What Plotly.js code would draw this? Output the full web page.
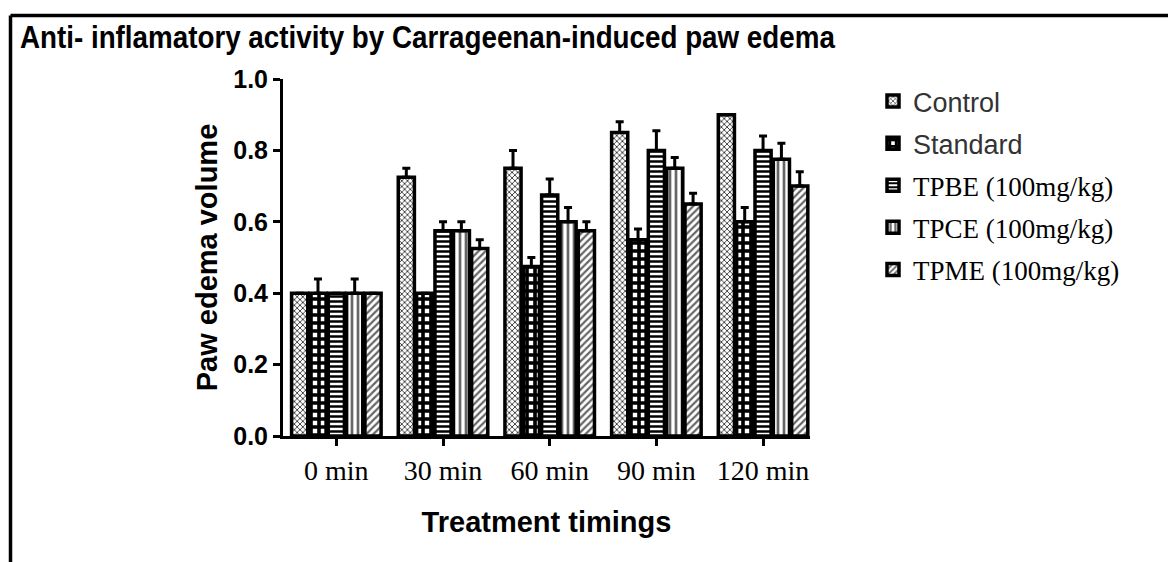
<!DOCTYPE html>
<html>
<head>
<meta charset="utf-8">
<script src="https://cdn.plot.ly/plotly-3.0.1.min.js"></script>
<style>html,body{margin:0;padding:0;background:#fff;}#chart{width:1168px;height:562px;}</style>
</head>
<body>
<div id="chart"></div>
<script>
const timings = ["0 min", "30 min", "60 min", "90 min", "120 min"];

const controlVals  = [0.40, 0.725, 0.75, 0.85, 0.90];
const controlErr   = [0.00, 0.025, 0.05, 0.03, 0.00];
const standardVals = [0.40, 0.40, 0.475, 0.55, 0.60];
const standardErr  = [0.04, 0.00, 0.025, 0.03, 0.04];
const tpbeVals     = [0.40, 0.575, 0.675, 0.80, 0.80];
const tpbeErr      = [0.00, 0.025, 0.045, 0.055, 0.04];
const tpceVals     = [0.40, 0.575, 0.60, 0.75, 0.775];
const tpceErr      = [0.04, 0.025, 0.04, 0.03, 0.045];
const tpmeVals     = [0.40, 0.525, 0.575, 0.65, 0.70];
const tpmeErr      = [0.00, 0.025, 0.025, 0.03, 0.04];

const seriesNames = [
  'Control',
  'Standard',
  '<span style="font-family:Liberation Serif;fill:#000">TPBE (100mg/kg)</span>',
  '<span style="font-family:Liberation Serif;fill:#000">TPCE (100mg/kg)</span>',
  '<span style="font-family:Liberation Serif;fill:#000">TPME (100mg/kg)</span>'
];

const patterns = [
  {shape: 'x', fgcolor: '#333', bgcolor: '#fff', size: 4, solidity: 0.4},
  {shape: '+', fgcolor: '#000', bgcolor: '#fff', size: 8, solidity: 0.7},
  {shape: '-', fgcolor: '#000', bgcolor: '#fff', size: 5, solidity: 0.5},
  {shape: '|', fgcolor: '#666', bgcolor: '#fff', size: 6, solidity: 0.45},
  {shape: '/', fgcolor: '#666', bgcolor: '#fff', size: 5, solidity: 0.45}
];

const vals = [controlVals, standardVals, tpbeVals, tpceVals, tpmeVals];
const errs = [controlErr, standardErr, tpbeErr, tpceErr, tpmeErr];

const traces = vals.map((v, i) => ({
  type: 'bar',
  x: timings,
  y: v,
  name: seriesNames[i],
  legendgroup: 'g' + i,
  marker: {color: '#fff', line: {color: '#000', width: 3.5}, pattern: patterns[i]},
  error_y: {type: 'data', array: errs[i], arrayminus: errs[i].map(() => 0), symmetric: false,
            color: '#000', thickness: 3, width: 4},
  hoverinfo: 'x+y'
}));

const X = px => (px - 283) / 527;
const Y = py => (436 - py) / 357;

const layout = {
  width: 1168, height: 562,
  paper_bgcolor: '#fff', plot_bgcolor: '#fff',
  margin: {l: 283, r: 358, t: 79, b: 126},
  barmode: 'group', bargap: 0.14, bargroupgap: 0.12,
  title: {
    text: '<b>Anti- inflamatory activity by Carrageenan-induced paw edema</b>',
    font: {family: 'Liberation Sans, Arial', size: 31, color: '#000'},
    xref: 'container', yref: 'container', x: 20 / 1168, xanchor: 'left',
    y: 1 - 37 / 562, yanchor: 'middle'
  },
  xaxis: {
    type: 'category', range: [-0.5, 4.44],
    showline: true, linecolor: '#000', linewidth: 3,
    ticks: 'outside', ticklen: 7, tickwidth: 3, tickcolor: '#000',
    showgrid: false, zeroline: false,
    tickfont: {family: 'Liberation Serif, Times New Roman, serif', size: 28, color: '#000'},
    title: {text: '<b>Treatment timings</b>', standoff: 28,
            font: {family: 'Liberation Sans, Arial', size: 29, color: '#000'}}
  },
  yaxis: {
    range: [0, 1], tickvals: [0, 0.2, 0.4, 0.6, 0.8, 1.0], ticktext: ['0.0', '0.2', '0.4', '0.6', '0.8', '1.0'],
    showline: true, linecolor: '#000', linewidth: 3,
    ticks: 'outside', ticklen: 7, tickwidth: 3, tickcolor: '#000',
    showgrid: false, zeroline: false,
    tickfont: {family: 'Liberation Sans, Arial', size: 25, color: '#000', weight: 'bold'},
    title: {text: '<b>Paw edema volume</b>', standoff: 8,
            font: {family: 'Liberation Sans, Arial', size: 29, color: '#000'}}
  },
  legend: {
    x: X(873), xanchor: 'left', y: Y(77), yanchor: 'top',
    font: {family: 'Liberation Sans, Arial', size: 27, color: '#333'},
    traceorder: 'grouped', tracegroupgap: 4,
    bgcolor: 'rgba(0,0,0,0)', borderwidth: 0, itemwidth: 30
  },
  shapes: [
    {type: 'line', xref: 'paper', yref: 'paper', x0: X(10.5), x1: X(10.5), y0: Y(562), y1: Y(15.5),
     line: {color: '#000', width: 3.5}},
    {type: 'line', xref: 'paper', yref: 'paper', x0: X(10.5), x1: X(1168), y0: Y(15.5), y1: Y(15.5),
     line: {color: '#000', width: 3.5}}
  ],
  showlegend: true
};

Plotly.newPlot('chart', traces, layout, {displayModeBar: false, staticPlot: true}).then(gd => {
  // narrow the title horizontally so it matches the condensed look of the original
  const t = gd.querySelector('.gtitle');
  if (t) {
    const bb = t.getBBox();
    const x0 = bb.x;
    const target = 836 - x0;
    const s = Math.min(1, target / bb.width);
    t.setAttribute('transform', `translate(${x0},0) scale(${s},1) translate(${-x0},0)`);
  }
});
</script>
</body>
</html>
